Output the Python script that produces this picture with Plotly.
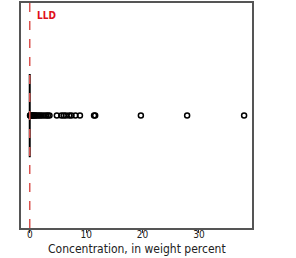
import plotly.graph_objects as go

below_lld = [0.0] * 120
detected = [0.05, 0.1, 0.15, 0.2, 0.3, 0.4, 0.5, 0.6, 0.8, 1.0, 1.2, 1.5, 1.8, 2.1,
            2.5, 2.9, 3.2, 3.5, 4.8, 5.6, 6.0, 6.4, 7.0, 7.4, 8.1, 8.9, 11.4, 11.6,
            19.7, 27.9, 38.0]
values = below_lld + detected
lld_value = 0.0
x_ticks = [0, 10, 20, 30]

FONT = "DejaVu Sans Condensed, Liberation Sans Narrow, sans-serif"

fig = go.Figure()
fig.add_vline(x=lld_value, line=dict(color="#d9534f", width=1.5, dash="dash"))
fig.add_trace(go.Box(
    x=values, y0=0, orientation="h", boxpoints="outliers",
    line=dict(color="black", width=2), fillcolor="rgba(0,0,0,0)",
    marker=dict(symbol="circle-open", color="black", size=5, line=dict(width=1.5, color="black")),
    width=0.37, showlegend=False, hoverinfo="x",
))
fig.add_annotation(x=lld_value, y=1, xref="x", yref="paper", text="<b>LLD</b>",
                   showarrow=False, xanchor="left", yanchor="top", xshift=5, yshift=-5,
                   font=dict(color="#e0101a", size=10, family=FONT))
fig.add_annotation(x=0.5, y=0, xref="paper", yref="paper",
                   text="Concentration, in weight percent", showarrow=False,
                   xanchor="center", yanchor="middle", yshift=-21,
                   font=dict(size=12, family=FONT, color="#222"))

fig.update_layout(
    width=296, height=258, margin=dict(l=21, r=44, t=3, b=30),
    paper_bgcolor="white", plot_bgcolor="white",
    font=dict(family=FONT, color="#222"),
    xaxis=dict(range=[-1.55, 39.4], tickvals=x_ticks, ticks="outside", ticklen=3,
               ticklabelstandoff=-7,
               tickcolor="#333", tickfont=dict(size=10), showgrid=False, zeroline=False,
               showline=True, linecolor="#555", linewidth=1.5, mirror=True, automargin=False),
    yaxis=dict(range=[-0.5, 0.5], showticklabels=False, ticks="", showgrid=False, zeroline=False,
               showline=True, linecolor="#555", linewidth=1.5, mirror=True),
)
fig.write_html("out.html")
